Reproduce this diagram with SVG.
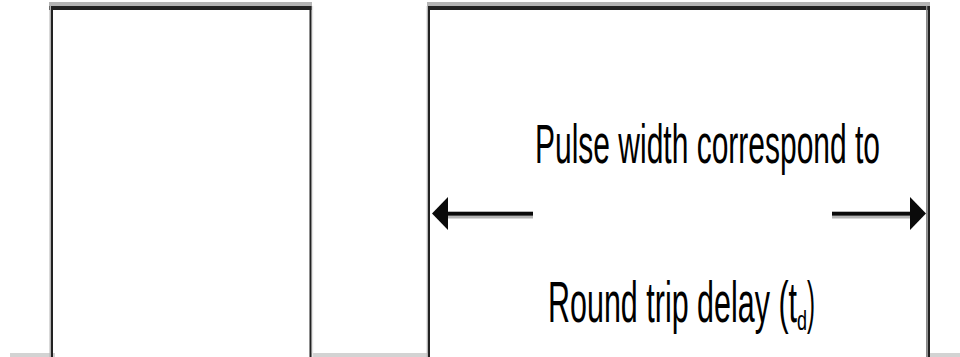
<svg xmlns="http://www.w3.org/2000/svg" width="960" height="357" viewBox="0 0 960 357">
<style>
.dk{fill:#222}
.gr{fill:#b4b4b4}
.base{fill:#d3d3d3}
.ah{fill:#0a0a0a}
.lbl{font-family:"Liberation Sans",Arial,sans-serif;fill:#000}
</style>
<rect width="960" height="357" fill="#fff"/>
<g id="baseline">
<rect class="base" x="10" y="353" width="45" height="4"/>
<rect class="base" x="311" y="353" width="117" height="4"/>
<rect class="base" x="928" y="353" width="32" height="4"/>
</g>
<g id="pulse1">
<rect class="gr" x="49" y="2" width="263" height="4"/>
<rect class="dk" x="49" y="6" width="263" height="4"/>
<rect class="gr" x="49.5" y="6" width="1.5" height="351"/>
<rect class="dk" x="51" y="6" width="2" height="351"/>
<rect class="dk" x="309.5" y="6" width="2.2" height="351"/>
<rect fill="#e6e6e6" x="311.7" y="6" width="1.5" height="351"/>
</g>
<g id="pulse2">
<rect class="gr" x="427" y="2" width="503" height="4"/>
<rect class="dk" x="427" y="6" width="503" height="4"/>
<rect class="gr" x="426.7" y="6" width="1.4" height="351"/>
<rect class="dk" x="428" y="6" width="2" height="351"/>
<rect fill="#8a8a8a" x="926" y="6" width="1.5" height="351"/>
<rect class="dk" x="927.7" y="6" width="2.3" height="351"/>
</g>
<g id="connectors">
<rect class="gr" x="447" y="215.7" width="86" height="2.8"/>
<rect class="ah" x="447" y="211.7" width="86" height="4"/>
<polygon class="ah" points="432,213.5 448,197 448,230"/>
<rect class="gr" x="832" y="215.7" width="78" height="2.8"/>
<rect class="ah" x="832" y="211.7" width="78" height="4"/>
<polygon class="ah" points="926,213.5 910,197 910,230"/>
</g>
<g id="label">
<text class="lbl" x="535" y="163" font-size="56" textLength="345" lengthAdjust="spacingAndGlyphs">Pulse width correspond to</text>
<text class="lbl" font-size="57"><tspan x="548" y="322" textLength="249" lengthAdjust="spacingAndGlyphs">Round trip delay (t</tspan><tspan x="797" y="330" font-size="28" textLength="10" lengthAdjust="spacingAndGlyphs">d</tspan><tspan x="807" y="322" textLength="8" lengthAdjust="spacingAndGlyphs">)</tspan></text>
</g>
</svg>
